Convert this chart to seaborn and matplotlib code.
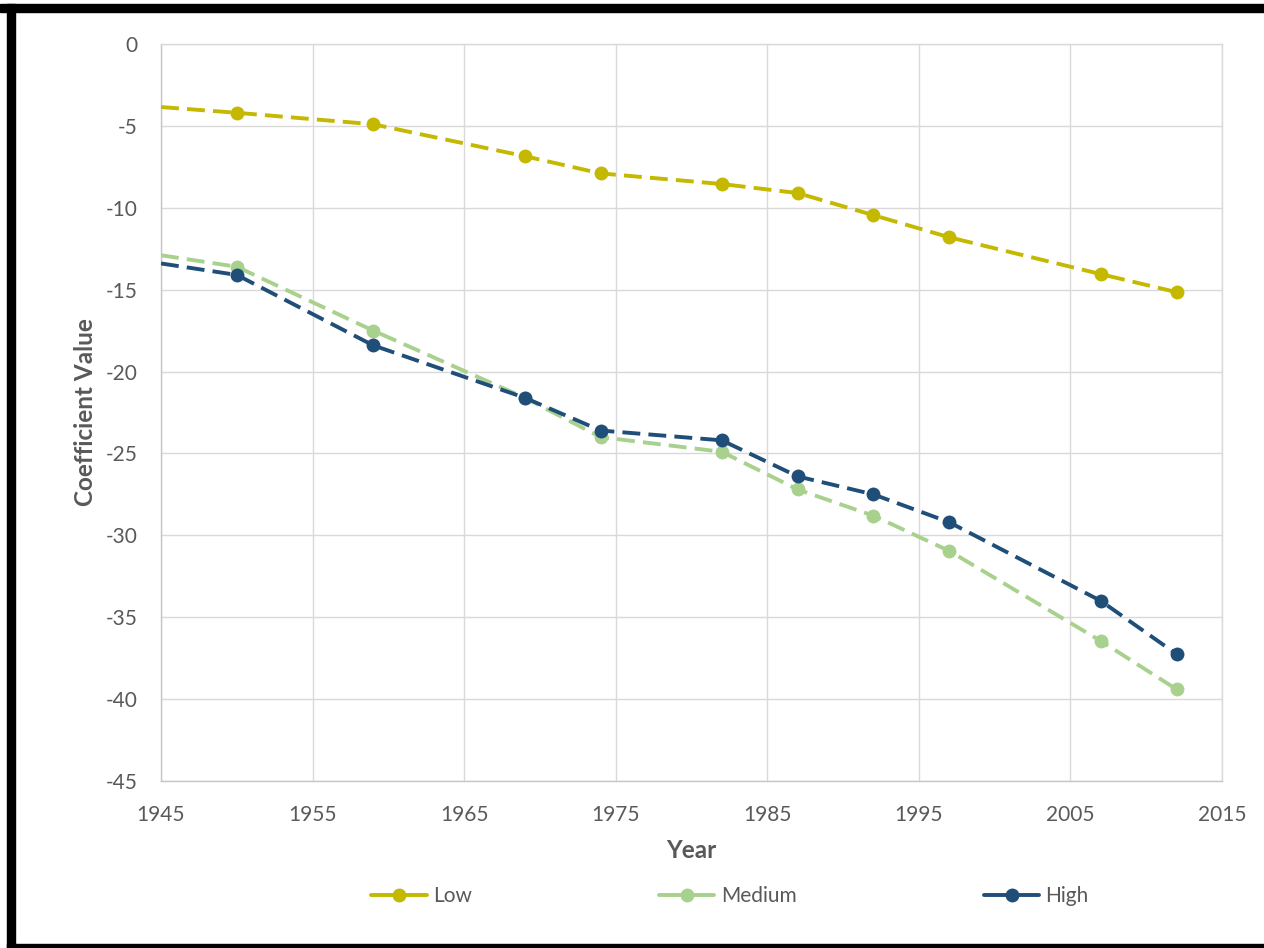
import matplotlib
matplotlib.use("Agg")
import matplotlib.pyplot as plt
import seaborn as sns
from matplotlib.lines import Line2D
from matplotlib.patches import Rectangle

# ---- data ----
years = [1945, 1950, 1959, 1969, 1974, 1982, 1987, 1992, 1997, 2007, 2012]
low = [-3.85, -4.2, -4.9, -6.85, -7.9, -8.55, -9.1, -10.45, -11.8, -14.05, -15.15]
medium = [-12.9, -13.6, -17.5, -21.6, -24.0, -24.9, -27.2, -28.8, -30.95, -36.45, -39.4]
high = [-13.4, -14.1, -18.4, -21.6, -23.6, -24.2, -26.4, -27.5, -29.2, -34.0, -37.25]
series_names = ["Low", "Medium", "High"]
colors = ["#C4B800", "#A9D18E", "#1F4E79"]
xticks = [1945, 1955, 1965, 1975, 1985, 1995, 2005, 2015]
yticks = [0, -5, -10, -15, -20, -25, -30, -35, -40, -45]

sns.set_theme(style="white")
plt.rcParams['font.family'] = ['Lato', 'DejaVu Sans']
plt.rcParams['axes.unicode_minus'] = False

fig = plt.figure(figsize=(12.64, 9.48), dpi=100)
ax = fig.add_axes([161/1264, 1-781/948, (1222-161)/1264, (781-44)/948])

txt = "#595959"
LW = 2.8
for name, vals, c in zip(series_names, [low, medium, high], colors):
    sns.lineplot(x=years, y=vals, ax=ax, color=c, linestyle="--", lw=LW,
                 marker="o", markersize=10, markeredgewidth=0, markeredgecolor=c,
                 markevery=list(range(1, len(years))), zorder=3)
for ln in ax.lines:
    ln.set_dashes((4.6, 2.1))

ax.set_xlim(1945, 2015)
ax.set_ylim(-45, 0)
ax.set_xticks(xticks)
ax.set_yticks(yticks)
ax.grid(True, color="#D9D9D9", lw=1)
for s in ax.spines.values():
    s.set_color("#D9D9D9")
    s.set_linewidth(1)
ax.spines["left"].set_color("#C6C6C6")
ax.spines["bottom"].set_color("#C6C6C6")
ax.tick_params(length=0, pad=17, labelsize=15, colors=txt)
ax.set_xlabel("Year", fontsize=17.5, fontweight="bold", color=txt, labelpad=10)
ax.set_ylabel("Coefficient Value", fontsize=17.5, fontweight="bold", color=txt, labelpad=6)

handles = [Line2D([0], [0], color=c, lw=LW, marker="o", ms=10, mew=0) for c in colors]
fig.legend(handles, series_names, loc="center", bbox_to_anchor=(730/1264, 1-896/948),
           ncol=3, frameon=False, handlelength=2.65, handletextpad=0.3,
           columnspacing=9.0, fontsize=15, labelcolor=txt)

# black frame
W, H = 1264, 948
fig.patches.append(Rectangle((0, 1-12/H), 1, 8/H, transform=fig.transFigure, color="black", zorder=10))
fig.patches.append(Rectangle((7/W, 0), 8/W, 1-4/H, transform=fig.transFigure, color="black", zorder=10))
fig.patches.append(Rectangle((7/W, 0), 1, 4/H, transform=fig.transFigure, color="black", zorder=10))

fig.savefig("out.png", dpi=100)
